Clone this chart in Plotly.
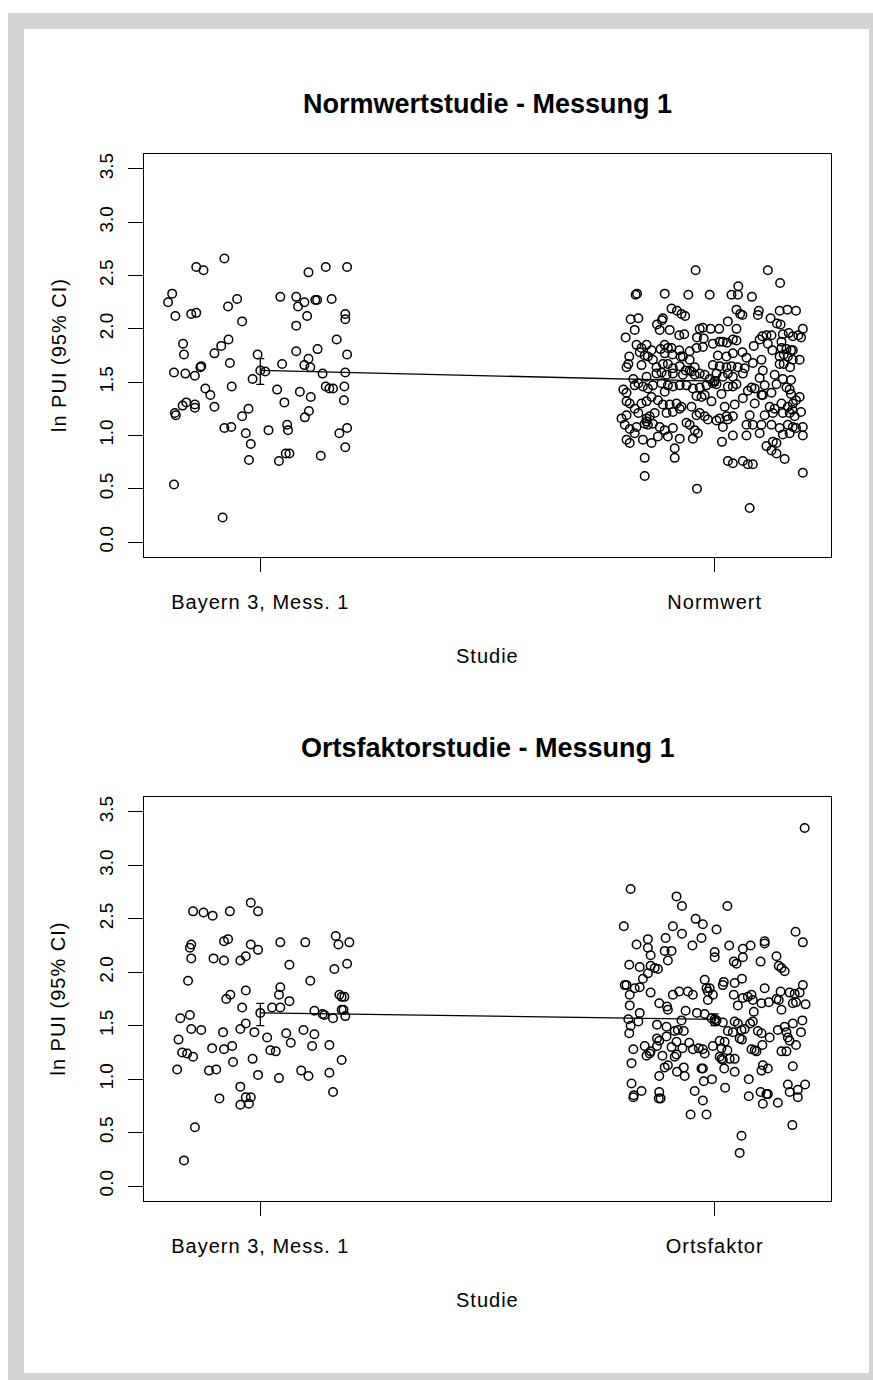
import plotly.graph_objects as go

W, H = 873, 1380

# ---- data -------------------------------------------------------------
studies_top = ["Bayern 3, Mess. 1", "Normwert"]
studies_bottom = ["Bayern 3, Mess. 1", "Ortsfaktor"]

# Bayern 3, Messung 1 (upper panel): horizontal jitter and ln PUI
bayern1_jitter = [-0.203, -0.194, -0.187, -0.190, -0.190, -0.188, -0.186, -0.170, -0.168, -0.165,
                  -0.171, -0.163, -0.144, -0.144, -0.152, -0.141, -0.141, -0.125, -0.144, -0.132,
                  -0.130, -0.121, -0.110, -0.101, -0.101, -0.086, -0.070, -0.067, -0.063, -0.079,
                  -0.071, -0.051, -0.040, -0.083, -0.079, -0.064, -0.040, -0.026, -0.032, -0.021,
                  -0.025, -0.017, -0.006, 0.011, 0.018, 0.037, 0.044, 0.048, 0.053, 0.041,
                  0.059, 0.061, 0.056, 0.064, 0.079, 0.079, 0.083, 0.097, 0.103, 0.079,
                  0.087, 0.097, 0.106, 0.110, 0.111, 0.107, 0.098, 0.106, 0.121, 0.125,
                  0.126, 0.137, 0.133, 0.144, 0.157, 0.144, 0.152, 0.160, 0.168, 0.174,
                  0.187, 0.187, 0.191, 0.187, 0.185, 0.184, 0.191, 0.187, 0.191]
bayern1_values = [2.25, 2.33, 2.12, 0.54, 1.59, 1.21, 1.19, 1.86, 1.76, 1.58,
                  1.28, 1.31, 1.29, 1.26, 2.14, 2.15, 2.58, 2.55, 1.56, 1.64,
                  1.65, 1.44, 1.38, 1.27, 1.77, 1.84, 1.90, 1.68, 1.46, 2.66,
                  2.21, 2.28, 2.07, 0.23, 1.07, 1.08, 1.18, 1.25, 1.02, 0.92,
                  0.77, 1.53, 1.76, 1.60, 1.05, 1.43, 2.30, 1.67, 1.31, 0.76,
                  1.10, 1.05, 0.83, 0.83, 2.03, 2.30, 2.21, 2.25, 2.12, 1.79,
                  1.41, 1.66, 1.72, 1.64, 1.36, 1.23, 1.17, 2.53, 2.27, 2.27,
                  1.81, 1.58, 0.81, 2.58, 2.28, 1.46, 1.44, 1.44, 1.90, 1.02,
                  2.14, 2.09, 1.76, 1.59, 1.46, 1.33, 1.07, 0.89, 2.58]

# Normwert sample
normwert_jitter = [-0.042, 0.117, 0.144, 0.052,
                   -0.171, -0.174, -0.110, -0.058, -0.011, 0.037, 0.051, 0.082,
                   -0.095, -0.083, -0.073, -0.065, 0.048, 0.056, 0.061, 0.097, 0.095, 0.143, 0.160, 0.179,
                   -0.185, -0.168, -0.114, -0.116, 0.029, 0.123, 0.137, 0.145,
                   -0.176, -0.127, -0.121, -0.099, -0.033, -0.026, -0.009, 0.010, 0.048, 0.105,
                   -0.196, -0.078, -0.067, -0.039, -0.024, 0.040, 0.011, 0.114, 0.125, 0.150,
                   0.163, 0.172, 0.184, 0.194, 0.190, 0.099, 0.147,
                   -0.172, -0.161, -0.150, -0.139, -0.119, -0.110, -0.103, -0.095, -0.078, -0.070,
                   -0.055, -0.040, -0.026, -0.004, 0.018, 0.027, 0.048, 0.061, 0.086, 0.117,
                   0.127, 0.147, 0.158, 0.168, 0.172,
                   -0.188, -0.165, -0.154, -0.147, -0.136, -0.110, -0.093, -0.075, -0.055, 0.007,
                   0.026, 0.040, 0.070, 0.103, 0.143, 0.152, 0.161, 0.187, 0.172,
                   -0.194, -0.190, -0.161, -0.128, -0.114, -0.103, -0.092, -0.077, -0.064, -0.055,
                   -0.044, -0.004, 0.011, 0.026, 0.037, 0.051, 0.066, 0.106, 0.143, 0.152,
                   0.166, 0.084,
                   -0.179, -0.150, -0.128, -0.117, -0.106, -0.092, -0.070, -0.051, -0.044, -0.033,
                   -0.022, -0.011, 0.004, 0.018, 0.029, 0.040, 0.062, 0.099, 0.132, 0.150, 0.168,
                   -0.201, -0.194, -0.176, -0.168, -0.158, -0.147, -0.136, -0.117, -0.110, -0.103,
                   -0.092, -0.077, -0.062, -0.048, -0.033, -0.018, -0.004, 0.004, 0.015, 0.029,
                   0.040, 0.048, 0.073, 0.081, 0.088, 0.103, 0.110, 0.125, 0.136, 0.158,
                   0.165, 0.168, 0.187,
                   -0.194, -0.187, -0.176, -0.161, -0.150, -0.139, -0.125, -0.114, -0.099, -0.084,
                   -0.073, -0.051, -0.040, -0.029, -0.022, -0.007, 0.022, 0.044, 0.062, 0.088,
                   0.106, 0.121, 0.132, 0.147, 0.161, 0.172, 0.179, 0.171,
                   -0.205, -0.194, -0.168, -0.150, -0.143, -0.150, -0.132, -0.106, -0.092, -0.077,
                   -0.040, -0.033, -0.022, -0.015, 0.004, 0.011, 0.026, 0.029, 0.040, 0.077,
                   0.110, 0.128, 0.150, 0.165, 0.176, 0.190,
                   -0.198, -0.187, -0.172, -0.154, -0.147, -0.136, -0.121, -0.110, -0.092, -0.062,
                   -0.055, -0.044, -0.037, 0.018, 0.040, 0.070, 0.084, 0.103, 0.125, 0.143,
                   0.161, 0.172, 0.179, 0.194, 0.194,
                   -0.194, -0.187, -0.176, -0.158, -0.139, -0.125, -0.103, -0.077, -0.048, 0.016,
                   0.070, 0.099, 0.114, 0.128, 0.136, 0.150, 0.165,
                   -0.088, -0.154, -0.088, 0.029, 0.040, 0.062, 0.073, 0.084, 0.125, 0.136, 0.154,
                   -0.154, 0.194, -0.039, 0.077]
normwert_values = [2.55, 2.55, 2.43, 2.40,
                   2.33, 2.32, 2.33, 2.32, 2.32, 2.32, 2.32, 2.30,
                   2.19, 2.17, 2.14, 2.12, 2.18, 2.14, 2.13, 2.17, 2.13, 2.17, 2.18, 2.17,
                   2.09, 2.10, 2.10, 2.08, 2.07, 2.10, 2.05, 2.04,
                   1.99, 2.04, 1.99, 1.99, 2.00, 2.01, 2.00, 2.00, 2.00, 1.93,
                   1.92, 1.94, 1.95, 1.92, 1.91, 1.90, 1.88, 1.94, 1.94, 1.95,
                   1.96, 1.93, 1.94, 2.00, 1.92, 1.90, 1.88,
                   1.85, 1.82, 1.85, 1.80, 1.81, 1.85, 1.82, 1.82, 1.80, 1.74,
                   1.79, 1.82, 1.83, 1.86, 1.88, 1.87, 1.89, 1.78, 1.84, 1.86,
                   1.80, 1.82, 1.81, 1.80, 1.80,
                   1.74, 1.78, 1.75, 1.74, 1.71, 1.77, 1.76, 1.74, 1.71, 1.75,
                   1.74, 1.77, 1.73, 1.71, 1.74, 1.76, 1.74, 1.71, 1.71,
                   1.64, 1.67, 1.66, 1.64, 1.67, 1.67, 1.63, 1.65, 1.61, 1.61,
                   1.64, 1.66, 1.65, 1.64, 1.65, 1.64, 1.63, 1.61, 1.67, 1.67,
                   1.64, 1.68,
                   1.53, 1.55, 1.58, 1.59, 1.57, 1.58, 1.57, 1.60, 1.57, 1.58,
                   1.57, 1.53, 1.58, 1.55, 1.58, 1.55, 1.58, 1.54, 1.57, 1.53, 1.52,
                   1.43, 1.40, 1.47, 1.49, 1.46, 1.44, 1.47, 1.49, 1.41, 1.47,
                   1.46, 1.47, 1.47, 1.44, 1.45, 1.47, 1.49, 1.48, 1.39, 1.46,
                   1.46, 1.48, 1.42, 1.45, 1.44, 1.38, 1.47, 1.40, 1.48, 1.45,
                   1.43, 1.39, 1.36,
                   1.32, 1.30, 1.25, 1.30, 1.32, 1.36, 1.33, 1.29, 1.29, 1.30,
                   1.27, 1.27, 1.37, 1.36, 1.38, 1.32, 1.27, 1.29, 1.35, 1.30,
                   1.38, 1.27, 1.25, 1.30, 1.27, 1.30, 1.33, 1.24,
                   1.16, 1.19, 1.21, 1.16, 1.18, 1.13, 1.21, 1.21, 1.22, 1.25,
                   1.19, 1.21, 1.18, 1.15, 1.14, 1.16, 1.18, 1.15, 1.18, 1.19,
                   1.19, 1.21, 1.21, 1.21, 1.18, 1.22,
                   1.10, 1.06, 1.08, 1.11, 1.10, 1.11, 1.08, 1.05, 1.07, 1.12,
                   1.10, 1.05, 1.02, 1.08, 1.00, 1.10, 1.10, 1.10, 1.10, 1.07,
                   1.10, 1.08, 1.07, 1.08, 1.00,
                   0.96, 0.93, 1.02, 0.96, 0.93, 0.99, 0.99, 0.97, 0.97, 0.94,
                   1.00, 1.02, 0.90, 0.94, 0.93, 1.01, 1.02,
                   0.88, 0.79, 0.79, 0.76, 0.74, 0.76, 0.73, 0.73, 0.86, 0.83, 0.78,
                   0.62, 0.65, 0.50, 0.32]

# Bayern 3, Messung 1 (lower panel)
bayern2_jitter = [-0.183, -0.180, -0.176, -0.172, -0.161, -0.148, -0.155, -0.152, -0.159, -0.152,
                  -0.152, -0.155, -0.148, -0.144, -0.168, -0.130, -0.125, -0.105, -0.103, -0.106,
                  -0.113, -0.097, -0.090, -0.082, -0.080, -0.080, -0.080, -0.071, -0.075, -0.066,
                  -0.067, -0.062, -0.060, -0.044, -0.032, -0.040, -0.032, -0.032, -0.044, -0.044,
                  -0.032, -0.021, -0.044, -0.025, -0.021, -0.005, -0.021, -0.005, -0.013, -0.017,
                  -0.005, 0.015, 0.022, 0.034, 0.026, 0.044, 0.041, 0.044, 0.044, 0.041,
                  0.057, 0.064, 0.064, 0.067, 0.099, 0.110, 0.095, 0.090, 0.106, 0.114,
                  0.119, 0.119, 0.137, 0.141, 0.152, 0.152, 0.160, 0.160, 0.166, 0.172,
                  0.163, 0.191, 0.196, 0.174, 0.179, 0.179, 0.183, 0.187, 0.179, 0.185]
bayern2_values = [1.09, 1.37, 1.57, 1.25, 1.24, 1.21, 1.60, 1.47, 1.92, 2.13,
                  2.26, 2.23, 2.57, 0.55, 0.24, 1.46, 2.56, 2.53, 2.13, 1.29,
                  1.08, 1.09, 0.82, 1.44, 1.28, 2.11, 2.29, 2.31, 1.75, 1.79,
                  2.57, 1.31, 1.16, 2.11, 2.15, 1.67, 1.83, 1.52, 1.47, 0.93,
                  0.83, 0.83, 0.76, 0.77, 2.65, 2.57, 2.26, 2.21, 1.44, 1.19,
                  1.04, 1.39, 1.27, 1.26, 1.67, 1.67, 1.79, 1.86, 2.28, 1.01,
                  1.43, 1.73, 2.07, 1.34, 2.28, 1.92, 1.46, 1.08, 1.03, 1.31,
                  1.42, 1.64, 1.61, 1.60, 1.32, 1.06, 0.88, 1.57, 2.34, 2.26,
                  2.03, 2.08, 2.28, 1.79, 1.77, 1.65, 1.65, 1.59, 1.18, 1.77]

# Ortsfaktor sample
ortsfaktor_jitter = [-0.185, -0.084, -0.072, 0.028, -0.200, -0.092, -0.042, -0.026, 0.004, -0.072,
                     -0.029, -0.049, 0.178, 0.194, -0.172, -0.147, -0.147, -0.141, -0.108, -0.110,
                     -0.095, -0.103, 0.000, 0.000, 0.032, 0.062, 0.062, 0.079, 0.042, 0.048,
                     0.110, 0.110, 0.101, 0.136, 0.141, 0.147, 0.154,
                     -0.188, -0.165, -0.141, -0.132, -0.125, -0.147, -0.158, -0.194, -0.198, -0.176,
                     -0.165, -0.187, -0.187, -0.141, -0.122, -0.105, -0.103, -0.092, -0.078, -0.059,
                     -0.048, -0.039, -0.022, -0.018, -0.011, -0.015, -0.004, -0.015, 0.018, 0.020,
                     0.044, 0.060, 0.042, 0.051, 0.062, 0.073, 0.081, 0.084, 0.086, 0.103,
                     0.110, 0.119, 0.136, 0.141, 0.145, 0.165, 0.176, 0.187, 0.194, 0.172,
                     0.179, 0.147, 0.200,
                     -0.190, -0.185, -0.188, -0.168, -0.165, -0.127, -0.106, -0.081, -0.088, -0.068,
                     -0.064, -0.073, -0.022, -0.007, 0.000, 0.004, 0.018, 0.029, 0.044, 0.051,
                     0.059, 0.066, 0.084, 0.078, 0.095, 0.103, 0.121, 0.139, 0.154, 0.158,
                     0.172, 0.193, 0.190, 0.161, 0.179, 0.165, 0.147, 0.158,
                     -0.179, -0.154, -0.150, -0.143, -0.141, -0.127, -0.127, -0.115, -0.106, -0.095,
                     -0.084, -0.084, -0.088, -0.071, -0.056, -0.048, -0.035, -0.026, -0.022, -0.004,
                     0.011, 0.015, 0.022, 0.028, 0.040, 0.055, 0.060, 0.011, 0.015, 0.018,
                     0.033, 0.044, 0.081, 0.092, 0.088, 0.105, 0.106, 0.103, 0.117, 0.172,
                     -0.183, -0.122, -0.110, -0.103, -0.083, -0.068, -0.066, -0.029, -0.026, -0.024,
                     -0.006, 0.021, 0.044, 0.075, -0.122,
                     -0.183, -0.161, -0.179, -0.178, -0.122, -0.119, -0.123, -0.044, -0.026, 0.023,
                     0.075, 0.101, 0.114, 0.117, 0.106, 0.139, 0.161, 0.165, 0.183, 0.183, 0.199,
                     -0.053, -0.018, 0.171, 0.059, 0.055, 0.198]
ortsfaktor_values = [2.78, 2.71, 2.62, 2.62, 2.43, 2.43, 2.50, 2.45, 2.40, 2.36,
                     2.32, 2.25, 2.38, 2.28, 2.26, 2.31, 2.23, 2.16, 2.32, 2.20,
                     2.20, 2.11, 2.19, 2.14, 2.25, 2.22, 2.14, 2.25, 2.10, 2.08,
                     2.29, 2.27, 2.10, 2.15, 2.06, 2.04, 2.01,
                     2.07, 2.05, 2.06, 2.04, 2.03, 1.99, 1.94, 1.88, 1.88, 1.85,
                     1.86, 1.79, 1.69, 1.81, 1.71, 1.68, 1.65, 1.79, 1.82, 1.82,
                     1.79, 1.62, 1.93, 1.85, 1.85, 1.82, 1.79, 1.74, 1.88, 1.91,
                     1.90, 1.94, 1.79, 1.69, 1.76, 1.77, 1.79, 1.74, 1.63, 1.71,
                     1.85, 1.72, 1.75, 1.74, 1.82, 1.81, 1.80, 1.81, 1.88, 1.71,
                     1.72, 1.65, 1.70,
                     1.56, 1.50, 1.43, 1.54, 1.62, 1.51, 1.49, 1.46, 1.45, 1.45,
                     1.64, 1.55, 1.61, 1.57, 1.54, 1.55, 1.53, 1.45, 1.54, 1.52,
                     1.46, 1.47, 1.54, 1.52, 1.45, 1.43, 1.39, 1.46, 1.49, 1.44,
                     1.52, 1.55, 1.44, 1.39, 1.32, 1.36, 1.26, 1.26,
                     1.28, 1.31, 1.22, 1.24, 1.26, 1.38, 1.31, 1.22, 1.40, 1.30,
                     1.35, 1.23, 1.21, 1.29, 1.34, 1.28, 1.29, 1.28, 1.24, 1.31,
                     1.36, 1.29, 1.35, 1.27, 1.44, 1.38, 1.37, 1.21, 1.19, 1.18,
                     1.19, 1.19, 1.28, 1.26, 1.27, 1.32, 1.13, 1.08, 1.10, 1.12,
                     1.15, 1.36, 1.11, 1.13, 1.07, 1.11, 1.03, 1.10, 1.10, 0.98,
                     1.00, 1.10, 1.07, 1.00, 1.03,
                     0.96, 0.89, 0.83, 0.85, 0.88, 0.82, 0.82, 0.89, 0.80, 0.92,
                     0.84, 0.88, 0.86, 0.86, 0.77, 0.78, 0.95, 0.88, 0.90, 0.83, 0.95,
                     0.67, 0.67, 0.57, 0.47, 0.31, 3.35]

# group means with 95% confidence limits
means_top = [1.61, 1.51]
ci_low_top = [1.48, 1.47]
ci_high_top = [1.72, 1.55]
means_bottom = [1.62, 1.56]
ci_low_bottom = [1.50, 1.50]
ci_high_bottom = [1.71, 1.61]

y_ticks = [0.0, 0.5, 1.0, 1.5, 2.0, 2.5, 3.0, 3.5]

# ---- styling ----------------------------------------------------------
FONT = "Liberation Sans, Arial, Helvetica, sans-serif"
BLACK = "#000000"
marker_style = dict(symbol="circle-open", size=8.5, color=BLACK, line=dict(width=1.5, color=BLACK))


def px_x(v):
    return v / W


def px_y(v):
    return 1 - v / H


fig = go.Figure()


def add_panel(xref, yref, groups, means, lo, hi):
    for pos, (jit, vals) in enumerate(groups, start=1):
        fig.add_trace(go.Scatter(
            x=[pos + j for j in jit], y=vals, mode="markers",
            marker=marker_style, xaxis=xref, yaxis=yref,
            showlegend=False, hoverinfo="y"))
    fig.add_trace(go.Scatter(
        x=[1, 2], y=means, mode="lines+markers",
        line=dict(color=BLACK, width=1.3),
        marker=marker_style,
        error_y=dict(type="data", symmetric=False,
                     array=[h - m for h, m in zip(hi, means)],
                     arrayminus=[m - l for m, l in zip(means, lo)],
                     color=BLACK, thickness=1.3, width=4),
        xaxis=xref, yaxis=yref, showlegend=False))


add_panel("x", "y", [(bayern1_jitter, bayern1_values), (normwert_jitter, normwert_values)],
          means_top, ci_low_top, ci_high_top)
add_panel("x2", "y2", [(bayern2_jitter, bayern2_values), (ortsfaktor_jitter, ortsfaktor_values)],
          means_bottom, ci_low_bottom, ci_high_bottom)

x_dom = [px_x(144), px_x(831)]
axis_common = dict(showline=True, mirror=True, linecolor=BLACK, linewidth=1.4,
                   ticks="outside", tickcolor=BLACK, tickwidth=1.4,
                   showgrid=False, zeroline=False,
                   tickfont=dict(family=FONT, size=19, color=BLACK))
xaxis_common = dict(axis_common, range=[0.744, 2.256], tickvals=[1, 2], ticklen=14,
                    ticklabelstandoff=13, tickfont=dict(family=FONT, size=20, color=BLACK))
yaxis_common = dict(axis_common, range=[-0.14, 3.64], tickvals=y_ticks, tickformat=".1f",
                    tickangle=-90, ticklen=15, ticklabelstandoff=7)

fig.update_layout(
    width=W, height=H, autosize=False,
    margin=dict(l=0, r=0, t=0, b=0),
    paper_bgcolor="white", plot_bgcolor="white",
    xaxis=dict(xaxis_common, domain=x_dom, anchor="y", ticktext=studies_top),
    yaxis=dict(yaxis_common, domain=[px_y(557), px_y(154)], anchor="x"),
    xaxis2=dict(xaxis_common, domain=x_dom, anchor="y2", ticktext=studies_bottom),
    yaxis2=dict(yaxis_common, domain=[px_y(1201), px_y(797)], anchor="x2"),
    shapes=[
        dict(type="rect", xref="paper", yref="paper", layer="below",
             x0=px_x(8), x1=1, y0=0, y1=px_y(13),
             fillcolor="#d3d3d3", line=dict(width=0)),
        dict(type="rect", xref="paper", yref="paper", layer="below",
             x0=px_x(24), x1=px_x(869), y0=px_y(1373), y1=px_y(29),
             fillcolor="white", line=dict(width=0)),
    ],
)

annotations = []
for title, ty in [("Normwertstudie - Messung 1", 104), ("Ortsfaktorstudie - Messung 1", 748)]:
    annotations.append(dict(text="<b>%s</b>" % title, x=px_x(487.5), y=px_y(ty),
                            xref="paper", yref="paper", showarrow=False,
                            xanchor="center", yanchor="middle",
                            font=dict(family=FONT, size=27, color=BLACK)))
for sy in [656, 1300]:
    annotations.append(dict(text="Studie", x=px_x(487.5), y=px_y(sy),
                            xref="paper", yref="paper", showarrow=False,
                            xanchor="center", yanchor="middle",
                            font=dict(family=FONT, size=20, color=BLACK)))
for cy in [355.5, 999]:
    annotations.append(dict(text="ln PUI (95% CI)", x=px_x(58), y=px_y(cy),
                            xref="paper", yref="paper", showarrow=False, textangle=-90,
                            xanchor="center", yanchor="middle",
                            font=dict(family=FONT, size=20, color=BLACK)))
fig.update_layout(annotations=annotations)

# slightly looser letter spacing on the category labels and axis titles
spacing_js = """
document.querySelectorAll('.xtick text, .x2tick text, .annotation-text').forEach(function (t) {
    if (!t.closest('.annotation') || t.textContent.indexOf('Messung') < 0) {
        t.style.letterSpacing = '1px';
    }
});
"""

fig.write_html("out.html", post_script=spacing_js)
